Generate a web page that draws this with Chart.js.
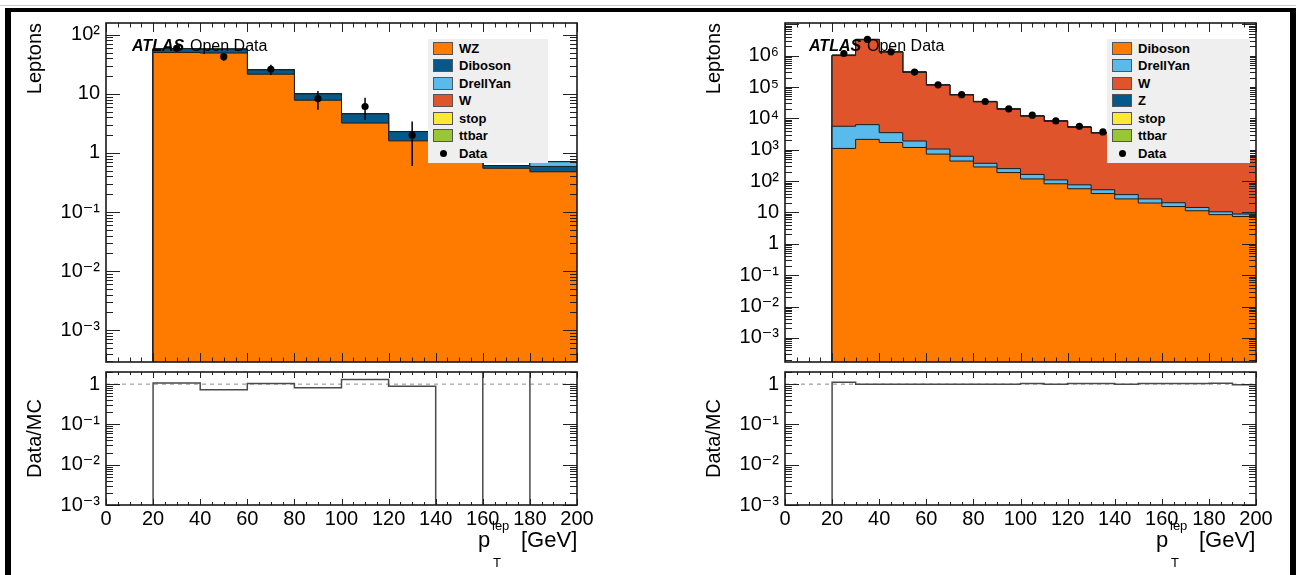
<!DOCTYPE html>
<html><head><meta charset="utf-8">
<script src="https://cdn.jsdelivr.net/npm/chart.js@4.4.1/dist/chart.umd.min.js"></script>
<style>
html,body{margin:0;padding:0;background:#fff;width:1296px;height:575px;overflow:hidden;font-family:"Liberation Sans",Arial,Helvetica,sans-serif;}
canvas{position:absolute;}
#topline{position:absolute;left:0;top:5px;width:1296px;height:1px;background:#c8c8c8;}
#frame{position:absolute;left:5px;top:8px;width:1279px;height:620px;border-top:4px solid #000;border-left:6px solid #000;border-right:6px solid #000;}
.lg{position:absolute;background:#efefef;}
.sw{position:absolute;width:20px;height:13px;box-sizing:border-box;border:1px solid #555;}
.dot{position:absolute;width:7px;height:7px;border-radius:50%;background:#000;}
.lt{position:absolute;font-size:13px;font-weight:bold;line-height:13px;color:#000;white-space:nowrap;}
.txt{position:absolute;white-space:nowrap;color:#000;}
</style></head><body>
<div id="topline"></div>
<div id="frame"></div>
<canvas id="cLM" width="648" height="380" style="left:0;top:0"></canvas>
<canvas id="cRM" width="648" height="380" style="left:648px;top:0"></canvas>
<canvas id="cLR" width="648" height="225" style="left:0;top:350px"></canvas>
<canvas id="cRR" width="648" height="225" style="left:648px;top:350px"></canvas>
<div id="overlay"></div>
<script>
// ---------------- DATA ----------------
// Left panel (20 GeV bins)
const leftEdges    = [20, 40, 60, 80, 100, 120, 140, 160, 180, 200];
const leftCenters  = [30, 50, 70, 90, 110, 130, 150, 170, 190];
const leftWZ       = [50, 49, 21.5, 7.8, 3.2, 1.6, 0.9, 0.55, 0.48];
const leftDiboson  = [8, 8, 4, 2.2, 1.4, 0.7, 0.3, 0.06, 0.11];
const leftDrellYan = [0, 0, 0, 0, 0, 0, 0, 0, 0.12];
const leftW        = [0, 0, 0, 0, 0, 0, 0, 0, 0];
const leftStop     = [0, 0, 0, 0, 0, 0, 0, 0, 0];
const leftTtbar    = [0, 0, 0, 0, 0, 0, 0, 0, 0];
const leftData     = [59, 42.5, 26, 8.3, 6.1, 2, 0, 1, 0];
const leftDataErr  = [7.7, 6.5, 5.1, 2.9, 2.5, 1.4, 0, 0, 0];
const leftRatio    = [1.07, 0.73, 1.03, 0.81, 1.3, 0.89, 0, 2.5, 0];

// Right panel (10 GeV bins)
const rightEdges    = [20, 30, 40, 50, 60, 70, 80, 90, 100, 110, 120, 130, 140, 150, 160, 170, 180, 190, 200];
const rightCenters  = [25, 35, 45, 55, 65, 75, 85, 95, 105, 115, 125, 135, 145, 155, 165, 175, 185, 195];
const rightDiboson  = [1100, 2140, 1700, 1180, 725, 435, 282, 187, 117, 82, 57, 40, 27, 20, 15.4, 11.3, 8.5, 7.4];
const rightDrellYan = [4500, 4160, 1800, 720, 325, 185, 88, 63, 46, 27, 19, 13, 10, 7, 5, 3.1, 2.0, 1.5];
const rightW        = [1.0e6, 3.2e6, 1.285e6, 2.91e5, 1.128e5, 5.48e4, 3.315e4, 1.915e4, 1.152e4, 7930, 5084, 3326, 2342, 1539, 1088, 808, 661, 579];
const rightZ        = [30000, 90000, 40000, 9000, 3500, 1700, 1000, 600, 370, 250, 160, 110, 75, 50, 35, 26, 21, 18];
const rightStop     = [300, 900, 600, 300, 150, 90, 60, 40, 28, 20, 15, 11, 8, 6, 5, 4, 3, 2.5];
const rightTtbar    = [500, 1500, 1200, 700, 450, 300, 220, 160, 120, 90, 65, 50, 38, 28, 22, 17, 14, 12];
const rightData     = [1.17e6, 3.3e6, 1.32e6, 3.0e5, 1.17e5, 5.7e4, 3.45e4, 2.0e4, 1.26e4, 8300, 5600, 3700, 2500, 1700, 1200, 900, 750, 600];
const rightRatio    = [1.12, 1.0, 0.99, 0.99, 0.99, 0.99, 0.99, 0.99, 1.03, 0.99, 1.04, 1.04, 0.99, 1.03, 1.03, 1.03, 1.05, 0.97];

// Tick labels
const xTickValues = [0, 20, 40, 60, 80, 100, 120, 140, 160, 180, 200];
const xTickLabels = ['0', '20', '40', '60', '80', '100', '120', '140', '160', '180', '200'];
const leftMainYTicks  = [1e-3, 1e-2, 1e-1, 1, 10, 100];
const leftMainYLabels = ['10\u207B\u00B3', '10\u207B\u00B2', '10\u207B\u00B9', '1', '10', '10\u00B2'];
const rightMainYTicks  = [1e-3, 1e-2, 1e-1, 1, 10, 1e2, 1e3, 1e4, 1e5, 1e6];
const rightMainYLabels = ['10\u207B\u00B3', '10\u207B\u00B2', '10\u207B\u00B9', '1', '10', '10\u00B2', '10\u00B3', '10\u2074', '10\u2075', '10\u2076'];
const ratioYTicks  = [1e-3, 1e-2, 1e-1, 1];
const ratioYLabels = ['10\u207B\u00B3', '10\u207B\u00B2', '10\u207B\u00B9', '1'];
const refLine = [1, 1];

const leftNames  = ['WZ', 'Diboson', 'DrellYan', 'W', 'stop', 'ttbar'];
const rightNames = ['Diboson', 'DrellYan', 'W', 'Z', 'stop', 'ttbar'];

// ---------------- STYLE ----------------
const FONT = '"Liberation Sans", Arial, Helvetica, "DejaVu Sans", sans-serif';
const C = { orange:'#fe7b00', dblue:'#04598a', lblue:'#58bbec', red:'#e0542c', yellow:'#fbe932', green:'#98c636' };
const leftColors  = [C.orange, C.dblue, C.lblue, C.red, C.yellow, C.green];
const rightColors = [C.orange, C.lblue, C.red, C.dblue, C.yellow, C.green];
const FLOOR = 1e-9;

Chart.defaults.font.family = FONT;
Chart.defaults.color = '#000';

const rootAxes = {
  id: 'rootAxes',
  afterDatasetsDraw(chart, args, o) {
    const {ctx, chartArea: a, scales} = chart;
    const xs = scales.x, ys = scales.y;
    ctx.save();
    ctx.strokeStyle = '#222';
    ctx.lineWidth = 1;
    const seg = (x1, y1, x2, y2) => { ctx.beginPath(); ctx.moveTo(x1, y1); ctx.lineTo(x2, y2); ctx.stroke(); };
    for (let v = xs.min; v <= xs.max + 1e-9; v += o.xMinor) {
      const px = Math.round(xs.getPixelForValue(v)) + 0.5;
      const major = Math.abs(v / o.xMajor - Math.round(v / o.xMajor)) < 1e-6;
      const L = major ? o.xMajorLen : o.xMinorLen;
      seg(px, a.bottom, px, a.bottom - L);
      seg(px, a.top, px, a.top + L);
    }
    const lo = Math.floor(Math.log10(ys.min)), hi = Math.ceil(Math.log10(ys.max));
    for (let k = lo; k <= hi; k++) {
      for (let m = 1; m <= 9; m++) {
        const v = m * Math.pow(10, k);
        if (v < ys.min || v > ys.max) continue;
        const py = Math.round(ys.getPixelForValue(v)) + 0.5;
        const L = m === 1 ? o.yMajorLen : o.yMinorLen;
        seg(a.left, py, a.left + L, py);
        seg(a.right, py, a.right - L, py);
      }
    }
    ctx.lineWidth = 1.6;
    ctx.strokeStyle = '#1a1a1a';
    ctx.strokeRect(a.left, a.top, a.right - a.left, a.bottom - a.top);
    ctx.restore();
  }
};

function stepPoints(edges, values) {
  const pts = [{x: edges[0], y: FLOOR}];
  values.forEach((v, i) => pts.push({x: edges[i], y: v > 0 ? v : FLOOR}));
  const last = values[values.length - 1];
  pts.push({x: edges[edges.length - 1], y: last > 0 ? last : FLOOR});
  return pts;
}

function yAxis(min, max, ticks, labels, width, title, align) {
  return {
    type: 'logarithmic', min, max,
    afterFit(s) { s.width = width; },
    afterBuildTicks(s) { s.ticks = ticks.map(v => ({value: v})); },
    ticks: { callback: (v, i) => labels[i], font: {size: 20, family: FONT}, color: '#000', padding: 6, autoSkip: false, maxRotation: 0 },
    grid: { display: false, drawTicks: false },
    border: { display: false },
    title: { display: true, text: title, align, color: '#000', font: {size: 20, family: FONT}, padding: {top: 3, bottom: 0} }
  };
}

function xAxis(show) {
  return {
    type: 'linear', min: 0, max: 200, display: show,
    afterFit(s) { if (show) s.height = 50; },
    afterBuildTicks(s) { s.ticks = xTickValues.map(v => ({value: v})); },
    ticks: { callback: (v, i) => xTickLabels[i], font: {size: 20, family: FONT}, color: '#000', padding: 2, autoSkip: false, maxRotation: 0 },
    grid: { display: false, drawTicks: false },
    border: { display: false }
  };
}

function mainChart(id, edges, centers, layers, names, colors, data, dataErr, yMin, yMax, yTicks, yLabels, padLeft) {
  const datasets = [];
  let run = edges.slice(0, -1).map(() => 0);
  layers.forEach((vals, k) => {
    run = run.map((r, i) => r + vals[i]);
    datasets.push({
      label: names[k], data: stepPoints(edges, run.slice()), stepped: 'before', fill: 'start',
      backgroundColor: colors[k], borderColor: '#1c1c1c', borderWidth: 1, pointRadius: 0, order: 10 + k
    });
  });
  if (dataErr) {
    const e = [];
    centers.forEach((c, i) => {
      if (data[i] > 0 && dataErr[i] > 0) {
        const lo = data[i] - dataErr[i];
        e.push({x: c, y: lo > 0 ? lo : FLOOR}, {x: c, y: data[i] + dataErr[i]}, {x: c, y: null});
      }
    });
    datasets.push({label: 'err', data: e, borderColor: '#000', borderWidth: 1.5, pointRadius: 0, spanGaps: false, order: 1});
  }
  datasets.push({
    label: 'Data', data: centers.map((c, i) => ({x: c, y: data[i] > 0 ? data[i] : null})),
    showLine: false, pointRadius: 3.6, pointBackgroundColor: '#000', pointBorderWidth: 0, order: 0
  });
  return new Chart(document.getElementById(id), {
    type: 'line',
    data: { datasets },
    options: {
      responsive: false, animation: false, devicePixelRatio: 1, events: [],
      layout: { padding: { left: padLeft, right: 648 - padLeft - 86 - 471, top: 23, bottom: 10 } },
      plugins: { legend: {display: false}, tooltip: {enabled: false},
        rootAxes: { xMajor: 20, xMinor: 5, xMajorLen: 9, xMinorLen: 4.5, yMajorLen: 14, yMinorLen: 7 } },
      scales: { x: xAxis(false), y: yAxis(yMin, yMax, yTicks, yLabels, 86, 'Leptons', 'end') }
    },
    plugins: [rootAxes]
  });
}

function ratioChart(id, edges, ratio, padLeft) {
  const datasets = [
    { label: 'ratio', data: stepPoints(edges, ratio), stepped: 'before', fill: false,
      borderColor: '#4a4a4a', borderWidth: 1.5, pointRadius: 0, order: 1 },
    { label: 'ref', data: [{x: 0, y: refLine[0]}, {x: 200, y: refLine[1]}], borderColor: '#8a8a8a',
      borderDash: [4, 4], borderWidth: 1, pointRadius: 0, fill: false, order: 2 }
  ];
  return new Chart(document.getElementById(id), {
    type: 'line',
    data: { datasets },
    options: {
      responsive: false, animation: false, devicePixelRatio: 1, events: [],
      layout: { padding: { left: padLeft, right: 648 - padLeft - 86 - 471, top: 22, bottom: 20 } },
      plugins: { legend: {display: false}, tooltip: {enabled: false},
        rootAxes: { xMajor: 20, xMinor: 5, xMajorLen: 6, xMinorLen: 3, yMajorLen: 14, yMinorLen: 7 } },
      scales: { x: xAxis(true), y: yAxis(1e-3, 2, ratioYTicks, ratioYLabels, 86, 'Data/MC', 'center') }
    },
    plugins: [rootAxes]
  });
}

mainChart('cLM', leftEdges, leftCenters, [leftWZ, leftDiboson, leftDrellYan, leftW, leftStop, leftTtbar],
  leftNames, leftColors, leftData, leftDataErr, 2.9e-4, 158, leftMainYTicks, leftMainYLabels, 20);
mainChart('cRM', rightEdges, rightCenters, [rightDiboson, rightDrellYan, rightW, rightZ, rightStop, rightTtbar],
  rightNames, rightColors, rightData, null, 1.7e-4, 1.1e7, rightMainYTicks, rightMainYLabels, 51);
ratioChart('cLR', leftEdges, leftRatio, 20);
ratioChart('cRR', rightEdges, rightRatio, 51);

// ---------------- OVERLAY TEXT / LEGENDS ----------------
const ov = document.getElementById('overlay');
function el(cls, style, text) {
  const d = document.createElement('div');
  d.className = cls; d.setAttribute('style', style);
  if (text !== undefined) d.textContent = text;
  ov.appendChild(d); return d;
}
function legend(left, top, width, names, colors) {
  el('lg', `left:${left}px;top:${top}px;width:${width}px;height:124px;`);
  const all = names.concat(['Data']);
  all.forEach((n, i) => {
    const cy = top + 9 + i * 17.5;
    if (n === 'Data') el('dot', `left:${left + 11.5}px;top:${cy - 3.5}px;`);
    else el('sw', `left:${left + 5}px;top:${cy - 6.5}px;background:${colors[i]};`);
    el('lt', `left:${left + 31}px;top:${cy - 6.5}px;`, n);
  });
}
legend(428, 39, 120, leftNames, leftColors);
legend(1107, 39, 143, rightNames, rightColors);

function atlas(x) {
  el('txt', `left:${x}px;top:37.5px;font-size:16px;line-height:16px;font-weight:bold;font-style:italic;`, 'ATLAS');
  el('txt', `left:${x + 58}px;top:37.5px;font-size:16px;line-height:16px;`, 'Open Data');
}
atlas(132); atlas(809);

function xTitle(dx) {
  el('txt', `left:${478 + dx}px;top:529.4px;font-size:22px;line-height:22px;`, 'p');
  el('txt', `left:${492 + dx}px;top:519px;font-size:13px;line-height:13px;`, 'lep');
  el('txt', `left:${493 + dx}px;top:556px;font-size:13px;line-height:13px;`, 'T');
  el('txt', `left:${521 + dx}px;top:529.4px;font-size:22px;line-height:22px;`, '[GeV]');
}
xTitle(0); xTitle(678);
</script>
</body></html>
